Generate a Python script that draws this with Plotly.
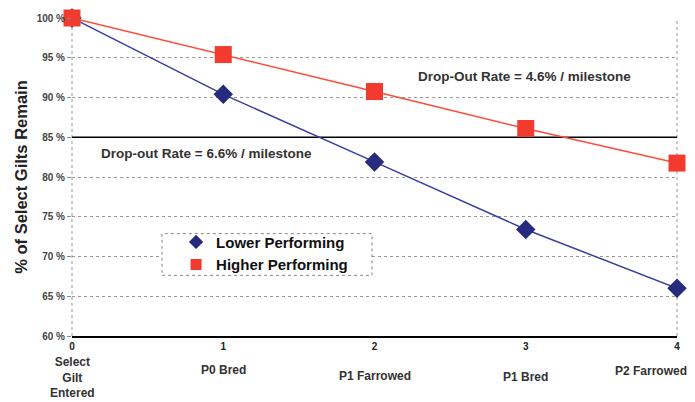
import plotly.graph_objects as go

# Milestones and share of selected gilts still in the herd (%)
milestones = [0, 1, 2, 3, 4]
milestone_names = ["Select<br>Gilt<br>Entered", "P0 Bred", "P1 Farrowed", "P1 Bred", "P2 Farrowed"]
lower_performing = [100.0, 90.4, 81.9, 73.4, 66.0]
higher_performing = [100.0, 95.4, 90.75, 86.1, 81.75]
y_ticks = [60, 65, 70, 75, 80, 85, 90, 95, 100]

FONT = "Liberation Sans, Arial, sans-serif"
BLUE_LINE, BLUE_MARK = "#3A3F9A", "#272B7E"
RED_LINE, RED_MARK = "#FF4A3A", "#F23A2E"

fig = go.Figure()

# Solid reference line at 85%, drawn as a trace so it sits above the dotted grid
fig.add_trace(go.Scatter(
    x=[milestones[0], milestones[-1]], y=[85, 85], mode="lines", showlegend=False,
    hoverinfo="skip", line=dict(color="black", width=1.5),
))
fig.add_trace(go.Scatter(
    x=milestones, y=lower_performing, name="Lower Performing",
    mode="lines+markers", showlegend=False,
    line=dict(color=BLUE_LINE, width=1.5),
    marker=dict(symbol="diamond", size=15, color=BLUE_MARK),
    cliponaxis=False,
))
fig.add_trace(go.Scatter(
    x=milestones, y=higher_performing, name="Higher Performing",
    mode="lines+markers", showlegend=False,
    line=dict(color=RED_LINE, width=1.5),
    marker=dict(symbol="square", size=17, color=RED_MARK),
    cliponaxis=False,
))
# Legend entries show the marker only
fig.add_trace(go.Scatter(x=[None], y=[None], name="Lower Performing", mode="markers",
                         marker=dict(symbol="diamond", size=11, color=BLUE_MARK)))
fig.add_trace(go.Scatter(x=[None], y=[None], name="Higher Performing", mode="markers",
                         marker=dict(symbol="square", size=11, color=RED_MARK)))

# Dotted frame drawn behind the legend
fig.add_shape(type="rect", xref="paper", yref="paper", x0=0.1488, x1=0.4959, y0=0.1906, y1=0.322,
              line=dict(color="#888", width=1, dash="dot"), fillcolor="white", layer="above")

# Milestone names under the axis numbers
name_offsets = [-17, -25, -31, -32, -26]
for i, (x, name, off) in enumerate(zip(milestones, milestone_names, name_offsets)):
    last = i == len(milestones) - 1
    fig.add_annotation(x=x, y=60, xref="x", yref="y", text=name, showarrow=False,
                       yanchor="top", yshift=off, xshift=-26 if last else 0,
                       font=dict(family=FONT, size=12, color="#333", weight="bold"),
                       align="center")

ann_font = dict(family=FONT, size=13.5, color="#333", weight="bold")
fig.add_annotation(x=2.99, y=92.6, text="Drop-Out Rate = 4.6% / milestone", showarrow=False, font=ann_font)
fig.add_annotation(x=0.89, y=83.0, text="Drop-out Rate = 6.6% / milestone", showarrow=False, font=ann_font)

fig.update_layout(
    width=695, height=402,
    margin=dict(l=72, r=18, t=16, b=66),
    paper_bgcolor="white", plot_bgcolor="white",
    font=dict(family=FONT, color="#222"),
    legend=dict(
        x=0.172, y=0.347, xanchor="left", yanchor="top",
        bgcolor="rgba(0,0,0,0)", borderwidth=0,
        font=dict(family=FONT, size=15, color="#111", weight="bold"),
        tracegroupgap=0, itemwidth=30,
    ),
    showlegend=True,
)
fig.update_xaxes(
    range=[0, 4], tickvals=milestones, ticktext=[str(m) for m in milestones],
    showgrid=False, zeroline=False,
    showline=True, linecolor="black", linewidth=2,
    ticks="", tickfont=dict(family=FONT, size=10, color="#222", weight="bold"),
)
fig.update_yaxes(
    range=[60, 100], tickvals=y_ticks, ticktext=[f"{v} %" for v in y_ticks],
    showgrid=True, gridcolor="#999", griddash="dot", gridwidth=1,
    zeroline=False, showline=False,
    ticks="outside", ticklen=4, tickcolor="#888",
    tickfont=dict(family=FONT, size=10, color="#444", weight="bold"),
    title=dict(text="% of Select Gilts Remain",
               font=dict(family=FONT, size=16.5, color="#222", weight="bold"), standoff=4),
)
# Dotted side borders
for xp in (0, 1):
    fig.add_shape(type="line", xref="paper", x0=xp, x1=xp, yref="paper", y0=0, y1=1,
                  line=dict(color="#999", width=1, dash="dot"), layer="below")

fig.write_html("out.html")
